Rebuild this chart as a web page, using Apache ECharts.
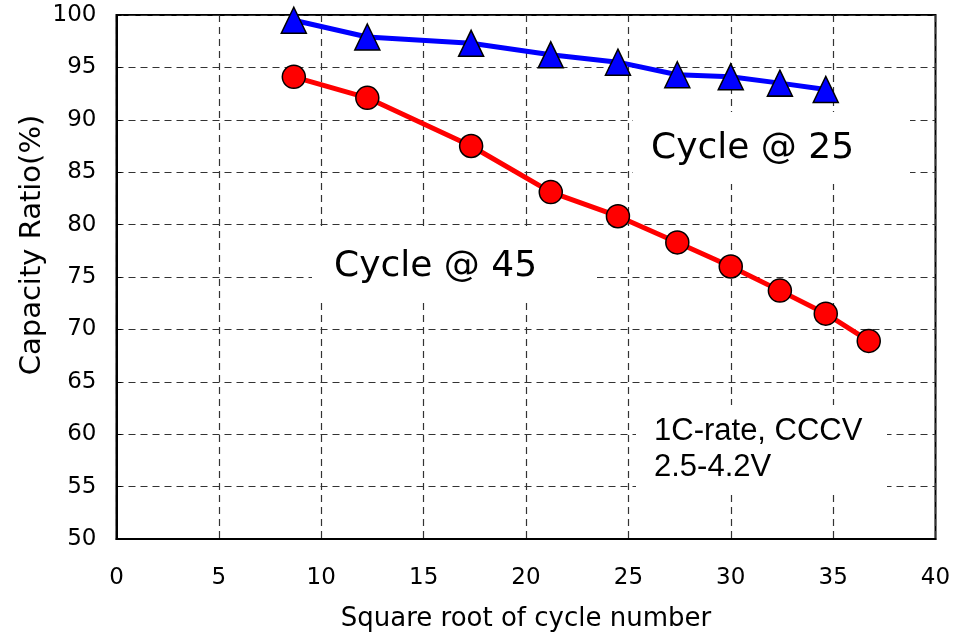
<!DOCTYPE html>
<html>
<head>
<meta charset="utf-8">
<script src="https://cdn.jsdelivr.net/npm/echarts@6/dist/echarts.min.js"></script>
<style>html,body{margin:0;padding:0;background:#fff}#c{width:970px;height:633px}</style>
</head>
<body>
<div id="c"></div>
<script>
// Data (x = square root of cycle number)
var sqrtCycles = [8.66, 12.25, 17.32, 21.21, 24.49, 27.39, 30.0, 32.4, 34.64, 36.74];
var cycle25 = [99.5, 97.9, 97.3, 96.2, 95.5, 94.3, 94.1, 93.5, 92.9];
var cycle45 = [94.1, 92.1, 87.5, 83.1, 80.8, 78.3, 76.0, 73.7, 71.5, 68.9];
var xTicks = [0, 5, 10, 15, 20, 25, 30, 35, 40];
var yTicks = [50, 55, 60, 65, 70, 75, 80, 85, 90, 95, 100];
var xTitle = 'Square root of cycle number';
var yTitle = 'Capacity Ratio(%)';
var label25 = 'Cycle @ 25';
var label45 = 'Cycle @ 45';
var condLines = ['1C-rate, CCCV', '2.5-4.2V'];

function pairs(vals) {
  return vals.map(function (v, i) { return [sqrtCycles[i], v]; });
}

var chart = echarts.init(document.getElementById('c'), null, {renderer: 'canvas'});
var gridDash = {type: [7, 5], color: '#333', width: 1.2};
var tickFont = {fontFamily: 'DejaVu Sans', fontSize: 23, color: '#000'};

chart.setOption({
  animation: false,
  backgroundColor: '#fff',
  grid: {left: 116.5, right: 34.5, top: 15, bottom: 94, containLabel: false, outerBoundsMode: 'none',
         show: true, borderColor: '#000', borderWidth: 2, backgroundColor: 'transparent'},
  xAxis: {
    type: 'value', min: xTicks[0], max: xTicks[xTicks.length - 1], interval: 5,
    axisLine: {show: true, onZero: false, lineStyle: {color: '#000', width: 2}},
    axisTick: {show: false},
    splitLine: {show: true, lineStyle: gridDash},
    axisLabel: Object.assign({margin: 28}, tickFont),
    name: xTitle, nameLocation: 'middle', nameGap: 67,
    nameTextStyle: {fontFamily: 'DejaVu Sans', fontSize: 26, color: '#000'}
  },
  yAxis: {
    type: 'value', min: yTicks[0], max: yTicks[yTicks.length - 1], interval: 5,
    axisLine: {show: true, onZero: false, lineStyle: {color: '#000', width: 2}},
    axisTick: {show: true, inside: true, length: 5, lineStyle: {color: '#000', width: 1}},
    splitLine: {show: true, lineStyle: gridDash},
    axisLabel: Object.assign({margin: 20}, tickFont)
  },
  graphic: [
    {type: 'text', z: 5, silent: true, x: 32, y: 245, rotation: Math.PI / 2,
     style: {text: yTitle, fontFamily: 'DejaVu Sans', fontSize: 29, fill: '#000', align: 'center', verticalAlign: 'middle'}},
    {type: 'rect', z: 1, silent: true, shape: {x: 312, y: 226, width: 285, height: 72}, style: {fill: '#fff'}},
    {type: 'rect', z: 1, silent: true, shape: {x: 633, y: 112, width: 277, height: 72}, style: {fill: '#fff'}},
    {type: 'rect', z: 1, silent: true, shape: {x: 636, y: 405, width: 251, height: 90}, style: {fill: '#fff'}},
    {type: 'text', z: 5, silent: true, x: 334, y: 267,
     style: {text: label45, fontFamily: 'DejaVu Sans', fontSize: 36, fill: '#000', align: 'left', verticalAlign: 'middle'}},
    {type: 'text', z: 5, silent: true, x: 651, y: 149,
     style: {text: label25, fontFamily: 'DejaVu Sans', fontSize: 36, fill: '#000', align: 'left', verticalAlign: 'middle'}},
    {type: 'text', z: 5, silent: true, x: 654, y: 431,
     style: {text: condLines[0], fontFamily: 'Liberation Sans', fontSize: 31, fill: '#000', align: 'left', verticalAlign: 'middle'}},
    {type: 'text', z: 5, silent: true, x: 654, y: 467,
     style: {text: condLines[1], fontFamily: 'Liberation Sans', fontSize: 31, fill: '#000', align: 'left', verticalAlign: 'middle'}}
  ],
  series: [
    {
      type: 'line', name: label25, data: pairs(cycle25), z: 4,
      symbol: 'triangle', symbolSize: [25, 26],
      lineStyle: {color: '#0000ff', width: 5},
      itemStyle: {color: '#0000ff', borderColor: '#000', borderWidth: 1.5}
    },
    {
      type: 'line', name: label45, data: pairs(cycle45), z: 4,
      symbol: 'circle', symbolSize: 23,
      lineStyle: {color: '#ff0000', width: 5},
      itemStyle: {color: '#ff0000', borderColor: '#000', borderWidth: 1.5}
    }
  ]
});
</script>
</body>
</html>
